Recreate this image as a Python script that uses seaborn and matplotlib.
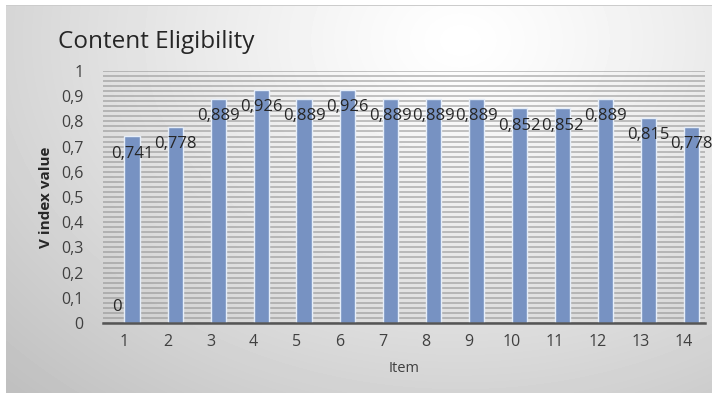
import numpy as np
import pandas as pd
import matplotlib
matplotlib.use("Agg")
import matplotlib.pyplot as plt
import seaborn as sns
from matplotlib.ticker import MultipleLocator, FixedLocator

# Content validity index per item
items = list(range(1, 15))
v_index = [0.741, 0.778, 0.889, 0.926, 0.889, 0.926, 0.889,
           0.889, 0.889, 0.852, 0.852, 0.889, 0.815, 0.778]
# Empty companion series (only item 1 carries a value)
base_items = [1]
base_values = [0]

y_ticks = [0.0, 0.1, 0.2, 0.3, 0.4, 0.5, 0.6, 0.7, 0.8, 0.9, 1.0]
y_tick_labels = ["0", "0,1", "0,2", "0,3", "0,4", "0,5",
                 "0,6", "0,7", "0,8", "0,9", "1"]

title = "Content Eligibility"
x_label = "Item"
y_label = "V index value"


def fmt(v):
    return "0" if v == 0 else f"{v:.3f}".replace(".", ",")


sns.set_theme(style="white")
plt.rcParams["font.family"] = ["Open Sans", "DejaVu Sans"]

df = pd.DataFrame({
    "Item": [str(i) for i in base_items + items],
    "Series": ["Base"] * len(base_items) + ["V"] * len(items),
    "Value": base_values + v_index,
})

W, H = 717, 397
fig = plt.figure(figsize=(W / 100, H / 100), dpi=100)
fig.patch.set_facecolor("white")

# Soft grey panel behind the chart
bg = fig.add_axes([0, 0, 1, 1], zorder=-5)
yy, xx = np.mgrid[0:H, 0:W]
r = np.sqrt(((xx - 460) / 560.0) ** 2 + ((yy - 40) / 420.0) ** 2)
shade = 1.0 - 0.21 * np.clip(r, 0, 1.15) ** 1.2
panel = (xx >= 6) & (xx <= 711) & (yy >= 5) & (yy <= 392)
img = np.where(panel, shade, 1.0)
img[5, 6:712] = 0.80
bg.imshow(img, cmap="gray", vmin=0, vmax=1, aspect="auto",
          extent=(0, W, H, 0), interpolation="bilinear")
bg.set_xlim(0, W)
bg.set_ylim(H, 0)
bg.axis("off")

ax = fig.add_axes([103 / W, 1 - 323 / H, 602 / W, 252 / H])
ax.set_facecolor("none")

bar_color = "#6a8ecf"
sns.barplot(data=df, x="Item", y="Value", hue="Series",
            order=[str(i) for i in items], hue_order=["Base", "V"],
            palette={"Base": bar_color, "V": bar_color},
            width=0.72, edgecolor="#e6eef9", linewidth=1.0,
            errorbar=None, legend=False, ax=ax, zorder=3)

# Value labels
for container, vals in zip(ax.containers, [base_values, v_index]):
    for patch, v in zip(container, vals):
        xc = patch.get_x() + patch.get_width() / 2
        dy = -12.5 if v > 0 else 11.5
        ax.annotate(fmt(v), (xc, v), xytext=(0, dy), textcoords="offset points",
                    ha="center", va="center", fontsize=12, color="#262626",
                    zorder=5, annotation_clip=False)

ax.set_xlim(-0.5, len(items) - 0.5)
ax.set_ylim(0, 1)
ax.yaxis.set_major_locator(FixedLocator(y_ticks))
ax.set_yticklabels(y_tick_labels)
ax.yaxis.set_minor_locator(MultipleLocator(0.02))
ax.grid(axis="y", which="both", color="#8c8c8c", alpha=0.6, linewidth=1.2, zorder=0)
ax.set_axisbelow(True)

for side in ["top", "right", "left"]:
    ax.spines[side].set_visible(False)
ax.spines["bottom"].set_color("#555555")
ax.spines["bottom"].set_linewidth(1.8)
ax.spines["bottom"].set_zorder(6)

ax.tick_params(axis="y", which="both", length=0, pad=14, labelsize=11.5, labelcolor="#404040")
ax.tick_params(axis="x", length=0, pad=8, labelsize=11.5, labelcolor="#404040")

ax.set_xlabel(x_label, fontsize=10.5, color="#404040", labelpad=8)
ax.set_ylabel(y_label, fontsize=11, fontweight="bold", color="#262626", labelpad=6)

fig.text(58 / W, 1 - 48 / H, title, fontsize=17.5, color="#262626",
         ha="left", va="baseline")

fig.savefig("out.png", dpi=100)
